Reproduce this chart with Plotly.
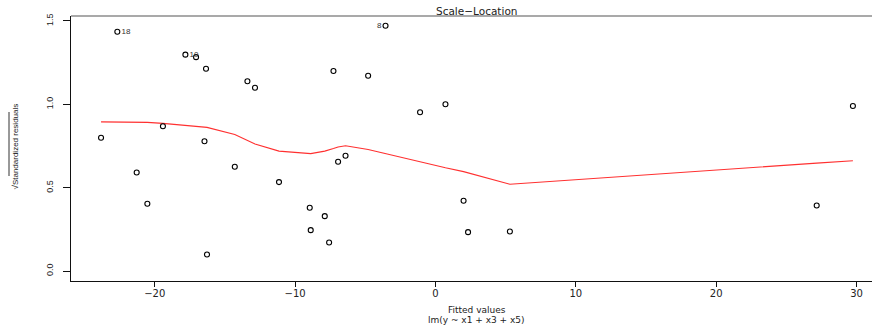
import plotly.graph_objects as go

# ---- data ----
fitted = [-22.67, -17.82, -17.06, -16.35, -13.40, -12.86, -23.83, -19.42, -16.46, -21.29,
          -20.53, -16.28, -14.30, -11.15, -3.56, -7.27, -4.80, 0.71, -1.10, -6.41,
          -6.94, -8.96, -7.89, -8.89, -7.58, 2.00, 2.32, 5.30, 29.74, 27.16]
sqrt_std_resid = [1.435, 1.298, 1.283, 1.214, 1.139, 1.100, 0.800, 0.869, 0.779, 0.592,
                  0.404, 0.100, 0.626, 0.534, 1.471, 1.200, 1.172, 1.001, 0.953, 0.692,
                  0.656, 0.380, 0.330, 0.246, 0.172, 0.422, 0.234, 0.238, 0.990, 0.394]
point_labels = ["18", "10", "", "", "", "", "", "", "", "",
                "", "", "", "", "8", "", "", "", "", "",
                "", "", "", "", "", "", "", "", "", ""]

smooth_x = [-23.83, -22.67, -21.29, -20.53, -19.42, -17.82, -17.06, -16.46, -16.35, -16.28,
            -14.30, -13.40, -12.86, -11.15, -8.96, -8.89, -7.89, -7.58, -7.27, -6.94,
            -6.41, -4.80, -3.56, -1.10, 0.71, 2.00, 2.32, 5.30, 27.16, 29.74]
smooth_y = [0.895, 0.895, 0.894, 0.892, 0.886, 0.875, 0.870, 0.866, 0.864, 0.862,
            0.820, 0.785, 0.762, 0.720, 0.705, 0.705, 0.720, 0.726, 0.735, 0.745,
            0.752, 0.730, 0.705, 0.652, 0.620, 0.597, 0.590, 0.521, 0.648, 0.662]

x_ticks = [-20, -10, 0, 10, 20, 30]
y_ticks = [0.0, 0.5, 1.0, 1.5]

title_text = "Scale\u2212Location"
xlab = "Fitted values"
sublab = "lm(y ~ x1 + x3 + x5)"
ylab = "\u221aStandardized residuals"

W, H = 872, 327
ML, MR, MT, MB = 71, 0, 16, 46
PW, PH = W - ML - MR, H - MT - MB


def px(xp):
    return (xp - ML) / PW


def py(yp):
    return (H - MB - yp) / PH


label_pos = ["middle left" if l == "8" else "middle right" for l in point_labels]

fig = go.Figure()
fig.add_trace(go.Scatter(
    x=smooth_x, y=smooth_y, mode="lines",
    line=dict(color="#ff3030", width=1.1), hoverinfo="skip", showlegend=False))
fig.add_trace(go.Scatter(
    x=fitted, y=sqrt_std_resid, mode="markers+text",
    marker=dict(symbol="circle-open", size=5, color="black", line=dict(width=1.1, color="black")),
    text=point_labels, textposition=label_pos,
    textfont=dict(family="Liberation Sans, Arial", size=8, color="#333333"),
    showlegend=False))

fig.update_layout(
    width=W, height=H, autosize=False,
    margin=dict(l=ML, r=MR, t=MT, b=MB, pad=0),
    paper_bgcolor="white", plot_bgcolor="white",
    font=dict(family="DejaVu Sans, Liberation Sans, Arial", color="#222222"),
    xaxis=dict(range=[-25.97, 31.10], tickvals=x_ticks, ticktext=[("\u2212" + str(-t)) if t < 0 else str(t) for t in x_ticks],
               showgrid=False, zeroline=False, showline=True, linecolor="#111111", linewidth=1.2,
               ticks="outside", ticklen=5, tickwidth=1.1, tickcolor="#111111", ticklabelstandoff=-2,
               tickfont=dict(family="DejaVu Sans", size=10, color="#222222")),
    yaxis=dict(range=[-0.0588, 1.5298], tickvals=y_ticks, tickformat=".1f",
               showgrid=False, zeroline=False, showline=True, linecolor="#111111", linewidth=1.2,
               ticks="outside", ticklen=7, tickwidth=1.1, tickcolor="#111111", tickangle=-90,
               ticklabelstandoff=6,
               tickfont=dict(family="Liberation Sans, Arial", size=9, color="#222222")),
    shapes=[
        dict(type="line", xref="paper", yref="paper", x0=0, x1=1, y0=1, y1=1,
             line=dict(color="#555555", width=1.2)),
        dict(type="line", xref="paper", yref="paper", x0=px(9), x1=px(9), y0=py(112), y1=py(176),
             line=dict(color="#333333", width=1)),
    ],
    annotations=[
        dict(text=title_text, xref="paper", yref="paper", x=px(476.7), y=py(10.7),
             showarrow=False, xanchor="center", yanchor="middle",
             font=dict(family="DejaVu Sans", size=10.5, color="#222222")),
        dict(text=xlab, xref="paper", yref="paper", x=px(476.7), y=py(310),
             showarrow=False, xanchor="center", yanchor="middle",
             font=dict(family="DejaVu Sans", size=9, color="#222222")),
        dict(text=sublab, xref="paper", yref="paper", x=px(476.7), y=py(319.5),
             showarrow=False, xanchor="center", yanchor="middle",
             font=dict(family="DejaVu Sans", size=9, color="#222222")),
        dict(text=ylab, xref="paper", yref="paper", x=px(14.5), y=py(146),
             showarrow=False, xanchor="center", yanchor="middle", textangle=-90,
             font=dict(family="Liberation Sans Narrow, Liberation Sans, Arial", size=8, color="#222222")),
    ],
)

fig.write_html("out.html", config={"displayModeBar": False},
               post_script="document.body.style.margin='0';document.body.style.padding='0';document.body.style.overflow='hidden';")
